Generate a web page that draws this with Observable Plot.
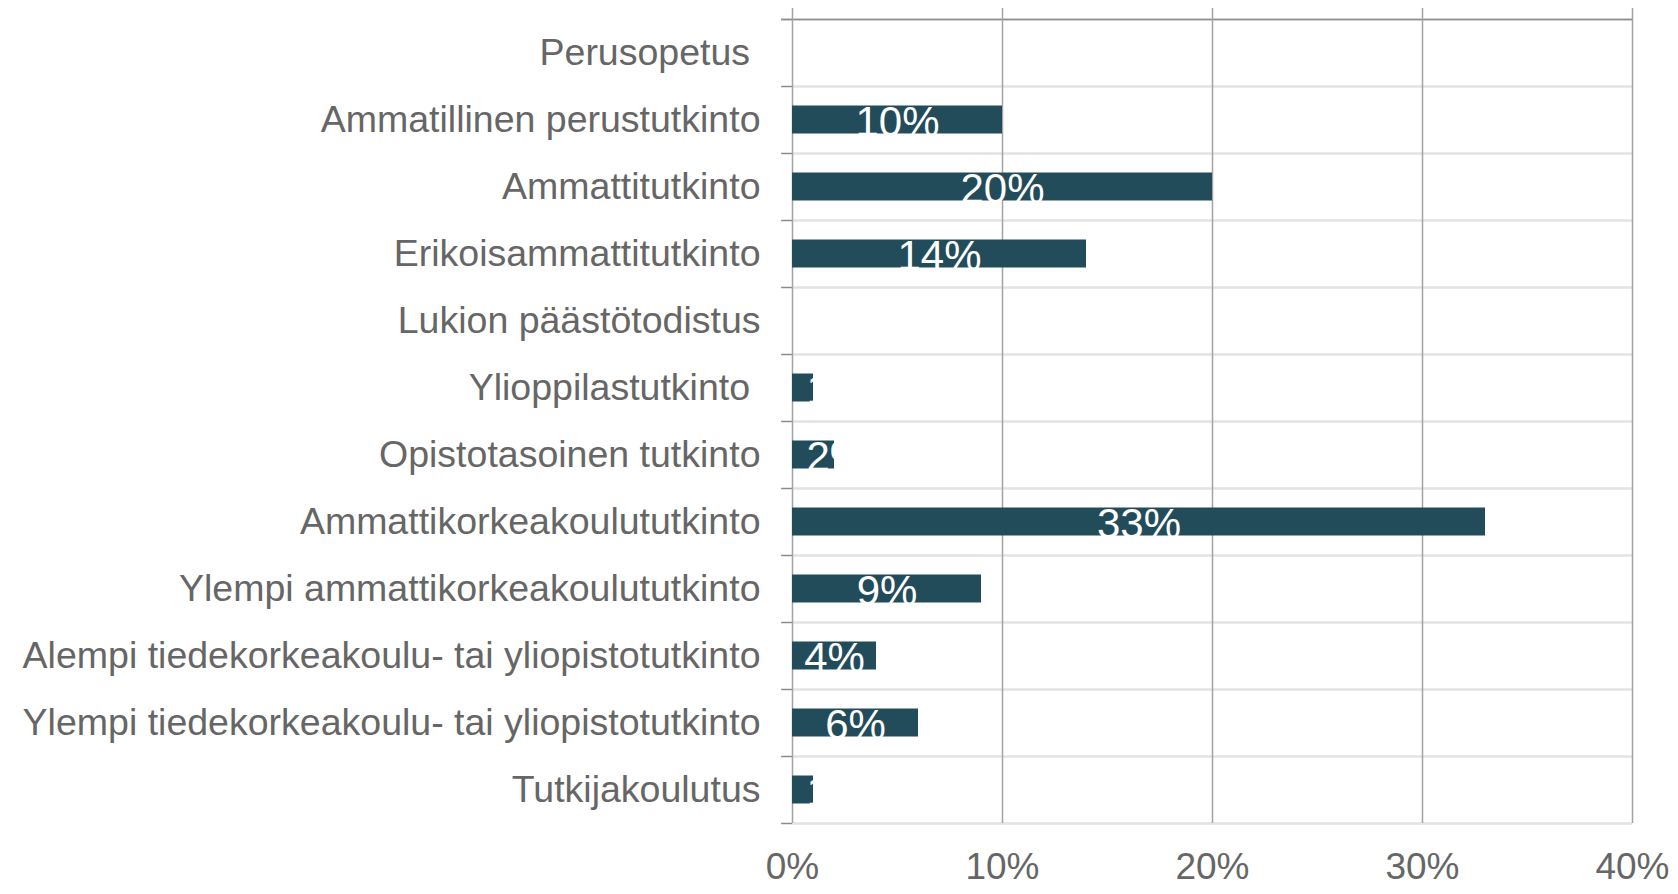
<!DOCTYPE html>
<html>
<head>
<meta charset="utf-8">
<script src="https://cdn.jsdelivr.net/npm/d3@7"></script>
<script src="https://cdn.jsdelivr.net/npm/@observablehq/plot@0.6"></script>
<style>
  html, body { margin: 0; padding: 0; background: #ffffff; }
  svg text { white-space: pre; }
</style>
</head>
<body>
<div id="chart"></div>
<script>
const categories = [
  "Perusopetus ",
  "Ammatillinen perustutkinto",
  "Ammattitutkinto",
  "Erikoisammattitutkinto",
  "Lukion päästötodistus",
  "Ylioppilastutkinto ",
  "Opistotasoinen tutkinto",
  "Ammattikorkeakoulututkinto",
  "Ylempi ammattikorkeakoulututkinto",
  "Alempi tiedekorkeakoulu- tai yliopistotutkinto",
  "Ylempi tiedekorkeakoulu- tai yliopistotutkinto",
  "Tutkijakoulutus"
];
const values = [0, 10, 20, 14, 0, 1, 2, 33, 9, 4, 6, 1];
const xTicks = [0, 10, 20, 30, 40];
const xTickLabels = ["0%", "10%", "20%", "30%", "40%"];

const data = categories.map((c, i) => ({category: c, value: values[i]}));

const W = 1678, H = 894;
const MT = 19, MB = 71, ML = 792, MR = 46;
const band = (H - MT - MB) / categories.length;
const barInset = 19.5;
const font = "'Liberation Sans', Arial, Helvetica, sans-serif";

const bars = data.filter(d => d.value > 0);
const bigLabels = data.filter(d => d.value >= 4);
const smallLabels = data.filter(d => d.value > 0 && d.value < 4);

const plot = Plot.plot({
  width: W,
  height: H,
  marginTop: MT,
  marginBottom: MB,
  marginLeft: ML,
  marginRight: MR,
  style: {fontFamily: font, fontSize: "37px", color: "#666666", background: "#ffffff", overflow: "visible"},
  x: {domain: [0, 40]},
  y: {domain: categories, padding: 0},
  marks: [
    // horizontal light gridlines at band boundaries
    Plot.ruleY(categories, {y: d => d, dy: -band / 2, x1: 0, x2: 40, stroke: "#e3e3e3", strokeWidth: 2.5}),
    Plot.ruleY(categories.slice(-1), {y: d => d, dy: band / 2, x1: 0, x2: 40, stroke: "#e3e3e3", strokeWidth: 2.5}),
    // left tick marks
    Plot.ruleY(categories, {y: d => d, dy: -band / 2, x1: -0.52, x2: 0, stroke: "#8c8c8c", strokeWidth: 1.5}),
    Plot.ruleY(categories.slice(-1), {y: d => d, dy: band / 2, x1: -0.52, x2: 0, stroke: "#8c8c8c", strokeWidth: 1.5}),
    // top dark axis line
    Plot.ruleY(categories.slice(0, 1), {y: d => d, dy: -band / 2, x1: -0.52, x2: 40, stroke: "#8c8c8c", strokeWidth: 1.5}),
    // vertical gridlines
    Plot.ruleX(xTicks, {x: d => d, stroke: "#a3a3a3", strokeWidth: 1.5, insetTop: -11}),
    // bars
    Plot.barX(bars, {y: "category", x: "value", fill: "#234c5a", insetTop: barInset, insetBottom: barInset, ariaLabel: "bars"}),
    // value labels
    Plot.text(bigLabels, {
      y: "category", x: d => d.value / 2, text: d => d.value + "%",
      fill: "#ffffff", fontSize: 42, lineAnchor: "top", dy: -band / 2 + barInset,
      ariaLabel: "labels-big"
    }),
    Plot.text(smallLabels, {
      y: "category", x: d => 0, text: d => d.value + "%",
      fill: "#ffffff", fontSize: 42, lineAnchor: "top", textAnchor: "start", dx: 14, dy: -band / 2 + barInset,
      ariaLabel: "labels-small"
    }),
    Plot.axisX({anchor: "bottom", ticks: xTicks, tickFormat: (d, i) => xTickLabels[xTicks.indexOf(d)], tickSize: 0, tickPadding: 29, fontSize: 37, label: null}),
    Plot.axisY({anchor: "left", tickSize: 0, tickPadding: 32, fontSize: 37.5, label: null})
  ]
});

// clip value labels to the bars (as in the reference)
(function clipLabels(svg) {
  const NS = "http://www.w3.org/2000/svg";
  const barsG = svg.querySelector('g[aria-label="bars"]');
  if (!barsG) return;
  const gt = barsG.getAttribute("transform") || "";
  let defs = svg.querySelector("defs");
  if (!defs) { defs = document.createElementNS(NS, "defs"); svg.insertBefore(defs, svg.firstChild); }
  const cp = document.createElementNS(NS, "clipPath");
  cp.setAttribute("id", "bar-clip");
  barsG.querySelectorAll("rect").forEach(r => {
    const c = r.cloneNode(false);
    const rt = r.getAttribute("transform") || "";
    const t = (gt + " " + rt).trim();
    if (t) c.setAttribute("transform", t);
    c.removeAttribute("fill");
    cp.appendChild(c);
  });
  defs.appendChild(cp);
  ["labels-big", "labels-small"].forEach(lbl => {
    const g = svg.querySelector('g[aria-label="' + lbl + '"]');
    if (!g) return;
    const wrap = document.createElementNS(NS, "g");
    wrap.setAttribute("clip-path", "url(#bar-clip)");
    g.parentNode.insertBefore(wrap, g);
    wrap.appendChild(g);
  });
})(plot);

document.getElementById("chart").appendChild(plot);
</script>
</body>
</html>
